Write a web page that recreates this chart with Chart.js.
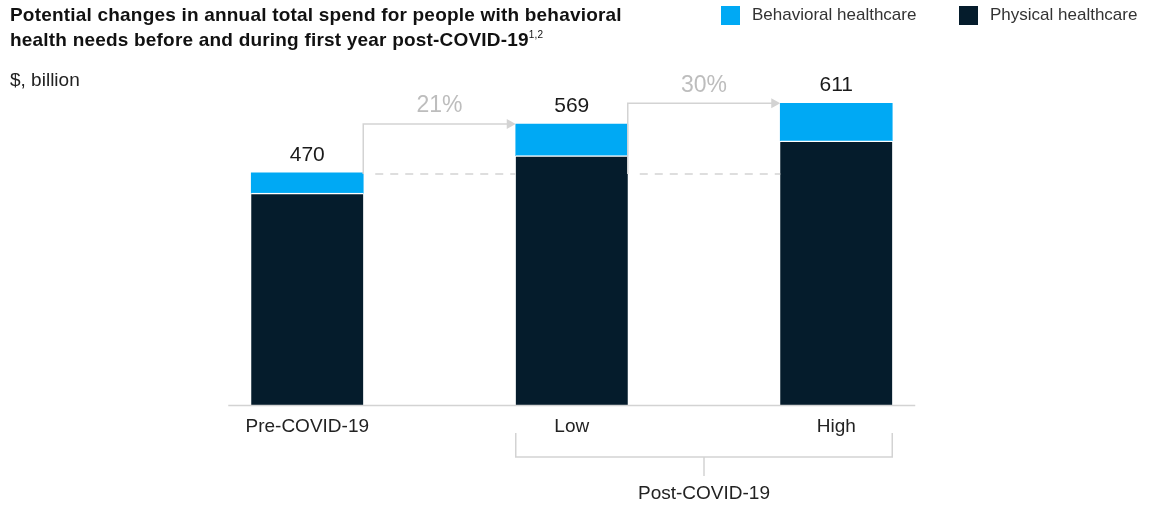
<!DOCTYPE html>
<html>
<head>
<meta charset="utf-8">
<script src="https://cdn.jsdelivr.net/npm/chart.js@4"></script>
<style>
  body { margin: 0; background: #fff; font-family: "Liberation Sans", Arial, sans-serif; color: #222; }
  #wrap { position: relative; width: 1157px; height: 507px; }
  #chart { position: absolute; left: 0; top: 0; }
  .title { position: absolute; left: 10px; top: 2px; font-weight: bold; font-size: 19px; line-height: 25px; color: #111; letter-spacing: 0.2px; }
  .title sup { font-size: 10px; font-weight: normal; vertical-align: 8px; line-height: 0; }
  .units { position: absolute; left: 10px; top: 69px; font-size: 19px; color: #222; }
  .legend { position: absolute; top: 5px; font-size: 17px; color: #333; display: flex; align-items: center; }
  .legend span.box { width: 19px; height: 19px; display: inline-block; margin-right: 12px; }
</style>
</head>
<body>
<div id="wrap">
  <canvas id="chart" width="1157" height="507"></canvas>
  <div class="title">Potential changes in annual total spend for people with behavioral<br>health needs before and during first year post-COVID-19<sup>1,2</sup></div>
  <div class="units">$, billion</div>
  <div class="legend" style="left:721px"><span class="box" style="background:#00a9f4"></span>Behavioral healthcare</div>
  <div class="legend" style="left:959px"><span class="box" style="background:#051c2c"></span>Physical healthcare</div>
</div>
<script>
// Data ($ billion)
const categories = ['Pre-COVID-19', 'Low', 'High'];
const physical = [429, 505, 535];
const behavioral = [41, 64, 76];
const groupLabel = 'Post-COVID-19';

const totals = physical.map((v, i) => v + behavioral[i]);

const blue = '#00a9f4';
const navy = '#051c2c';
const lineGray = '#d3d3d3';
const font = '"Liberation Sans", Arial, sans-serif';

// Draw the labels, arrows, baseline and bracket on top of the bars
const annotations = {
    id: 'annotations',
    afterDatasetsDraw(chart) {
        const ctx = chart.ctx;
        const y = chart.scales.y;
        const bars = chart.getDatasetMeta(0).data;
        const half = bars[0].width / 2;
        const left = i => bars[i].x - half;
        const right = i => bars[i].x + half;
        const base = y.getPixelForValue(0);

        ctx.save();

        // baseline
        ctx.strokeStyle = lineGray;
        ctx.lineWidth = 1.5;
        ctx.beginPath();
        ctx.moveTo(left(0) - 23, base + 0.5);
        ctx.lineTo(right(2) + 23, base + 0.5);
        ctx.stroke();

        // dashed reference line at the pre-COVID total
        const refY = y.getPixelForValue(totals[0]) + 1;
        ctx.setLineDash([8, 7]);
        ctx.beginPath();
        for (let i = 0; i < 2; i++) {
            ctx.moveTo(right(i) + 12, refY);
            ctx.lineTo(left(i + 1), refY);
        }
        ctx.stroke();
        ctx.setLineDash([]);

        // growth arrows
        for (let i = 1; i < totals.length; i++) {
            const topY = y.getPixelForValue(totals[i]);
            const x0 = right(i - 1);
            const x1 = left(i);
            ctx.strokeStyle = lineGray;
            ctx.lineWidth = 1.5;
            ctx.beginPath();
            ctx.moveTo(x0, refY);
            ctx.lineTo(x0, topY);
            ctx.lineTo(x1 - 8, topY);
            ctx.stroke();
            ctx.fillStyle = lineGray;
            ctx.beginPath();
            ctx.moveTo(x1, topY);
            ctx.lineTo(x1 - 9, topY - 5);
            ctx.lineTo(x1 - 9, topY + 5);
            ctx.closePath();
            ctx.fill();

            const pct = Math.round((totals[i] / totals[0] - 1) * 100) + '%';
            ctx.fillStyle = '#bdbdbd';
            ctx.font = '23px ' + font;
            ctx.textAlign = 'center';
            ctx.textBaseline = 'middle';
            ctx.fillText(pct, (x0 + x1) / 2, topY - 18);
        }

        // totals above bars
        ctx.fillStyle = '#1a1a1a';
        ctx.font = '21px ' + font;
        ctx.textAlign = 'center';
        ctx.textBaseline = 'middle';
        totals.forEach((t, i) => {
            ctx.fillText(String(t), bars[i].x, y.getPixelForValue(t) - 18);
        });

        // category labels
        ctx.font = '19px ' + font;
        ctx.fillStyle = '#222';
        categories.forEach((c, i) => {
            ctx.fillText(c, bars[i].x, base + 22);
        });

        // bracket for the post-COVID scenarios
        const bx0 = left(1), bx1 = right(2), by = base + 52;
        const mid = (bx0 + bx1) / 2;
        ctx.strokeStyle = lineGray;
        ctx.lineWidth = 1.5;
        ctx.beginPath();
        ctx.moveTo(bx0, base + 28);
        ctx.lineTo(bx0, by);
        ctx.lineTo(bx1, by);
        ctx.lineTo(bx1, base + 28);
        ctx.moveTo(mid, by);
        ctx.lineTo(mid, by + 19);
        ctx.stroke();
        ctx.fillStyle = '#222';
        ctx.fillText(groupLabel, mid, by + 37);

        ctx.restore();
    }
};

new Chart(document.getElementById('chart'), {
    type: 'bar',
    data: {
        labels: categories,
        datasets: [
            {
                label: 'Physical healthcare',
                data: physical,
                backgroundColor: navy,
                borderColor: '#ffffff',
                borderWidth: { top: 1.5, left: 0, right: 0, bottom: 0 },
                borderSkipped: false,
                barThickness: 112
            },
            {
                label: 'Behavioral healthcare',
                data: behavioral,
                backgroundColor: blue,
                borderWidth: 0,
                barThickness: 112
            }
        ]
    },
    options: {
        responsive: false,
        animation: false,
        layout: { padding: { left: 175, right: 188.5, top: 59.3, bottom: 102 } },
        scales: {
            x: { stacked: true, display: false },
            y: { stacked: true, display: false, min: 0, max: 700 }
        },
        plugins: {
            legend: { display: false },
            tooltip: { enabled: false }
        }
    },
    plugins: [annotations]
});
</script>
</body>
</html>
